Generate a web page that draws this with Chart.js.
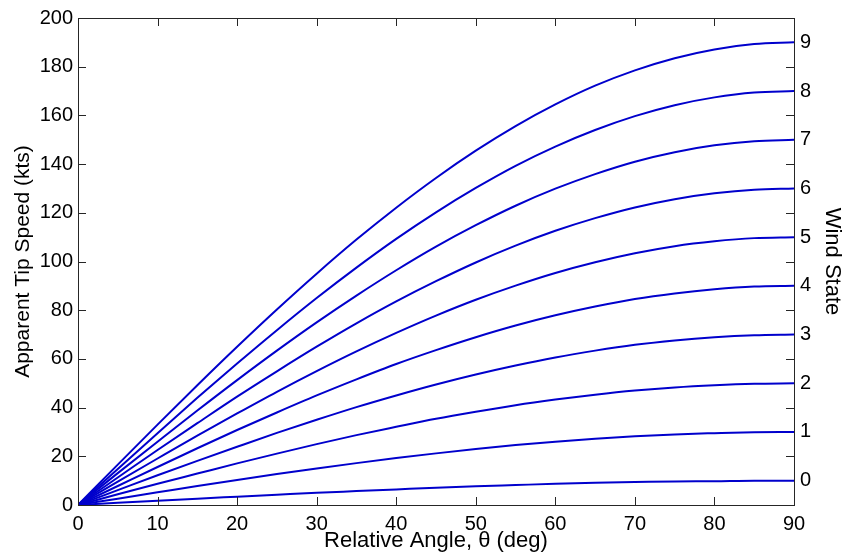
<!DOCTYPE html>
<html>
<head>
<meta charset="utf-8">
<script src="https://cdn.jsdelivr.net/npm/chart.js@4/dist/chart.umd.min.js"></script>
<style>
  body { margin: 0; background: #fff; }
  canvas { display: block; }
</style>
</head>
<body>
<canvas id="tip-chart" width="849" height="559"></canvas>
<script>
// relative angle samples (deg)
const angles = [0, 5, 10, 15, 20, 25, 30, 35, 40, 45, 50, 55, 60, 65, 70, 75, 80, 85, 90];

// apparent tip speed (kts) for each wind state
const state0 = [0, 0.9, 1.7, 2.6, 3.4, 4.2, 5, 5.7, 6.4, 7.1, 7.7, 8.2, 8.7, 9.1, 9.4, 9.7, 9.8, 10, 10];
const state1 = [0, 2.6, 5.2, 7.8, 10.3, 12.7, 15, 17.2, 19.3, 21.2, 23, 24.6, 26, 27.2, 28.2, 29, 29.5, 29.9, 30];
const state2 = [0, 4.4, 8.7, 12.9, 17.1, 21.1, 25, 28.7, 32.1, 35.4, 38.3, 41, 43.3, 45.3, 47, 48.3, 49.2, 49.8, 50];
const state3 = [0, 6.1, 12.2, 18.1, 23.9, 29.6, 35, 40.2, 45, 49.5, 53.6, 57.3, 60.6, 63.4, 65.8, 67.6, 68.9, 69.7, 70];
const state4 = [0, 7.8, 15.6, 23.3, 30.8, 38, 45, 51.6, 57.9, 63.6, 68.9, 73.7, 77.9, 81.5, 84.6, 86.9, 88.6, 89.7, 90];
const state5 = [0, 9.6, 19.1, 28.5, 37.6, 46.5, 55, 63.1, 70.7, 77.8, 84.3, 90.1, 95.3, 99.7, 103.4, 106.3, 108.3, 109.6, 110];
const state6 = [0, 11.3, 22.6, 33.6, 44.5, 54.9, 65, 74.6, 83.6, 91.9, 99.6, 106.5, 112.6, 117.8, 122.2, 125.6, 128, 129.5, 130];
const state7 = [0, 13.1, 26, 38.8, 51.3, 63.4, 75, 86, 96.4, 106.1, 114.9, 122.9, 129.9, 135.9, 141, 144.9, 147.7, 149.4, 150];
const state8 = [0, 14.8, 29.5, 44, 58.1, 71.8, 85, 97.5, 109.3, 120.2, 130.2, 139.3, 147.2, 154, 159.7, 164.2, 167.4, 169.4, 170];
const state9 = [0, 16.6, 33, 49.2, 65, 80.3, 95, 109, 122.1, 134.3, 145.5, 155.6, 164.5, 172.2, 178.5, 183.5, 187.1, 189.3, 190];

const states = [state0, state1, state2, state3, state4, state5, state6, state7, state8, state9];

// wind state labels on the right, placed at the end value of each curve
const windLabels = ['0', '1', '2', '3', '4', '5', '6', '7', '8', '9'];
const windEnds = states.map(s => s[s.length - 1]);

const xTicks = [0, 10, 20, 30, 40, 50, 60, 70, 80, 90];
const yTicks = [0, 20, 40, 60, 80, 100, 120, 140, 160, 180, 200];

const lineBlue = '#0000cc';
const family = "'Liberation Sans', Arial, sans-serif";
const font = { family: family, size: 20 };

let datasets = states.map(function (s, i) {
  return {
    label: 'Wind State ' + windLabels[i],
    data: s.map((v, k) => ({ x: angles[k], y: v })),
    borderColor: lineBlue,
    borderWidth: 2,
    pointRadius: 0,
    fill: false,
    cubicInterpolationMode: 'monotone',
    yAxisID: 'y'
  };
});

// box round the plot area with inward tick marks
const boxTicks = {
  id: 'boxTicks',
  afterDraw(chart) {
    const ctx = chart.ctx;
    const a = chart.chartArea;
    const sx = chart.scales.x, sy = chart.scales.y;
    const len = 8;
    ctx.save();
    ctx.strokeStyle = '#262626';
    ctx.lineWidth = 1;
    ctx.beginPath();
    xTicks.forEach(function (v) {
      const px = Math.round(sx.getPixelForValue(v)) + 0.5;
      ctx.moveTo(px, a.bottom); ctx.lineTo(px, a.bottom - len);
      ctx.moveTo(px, a.top); ctx.lineTo(px, a.top + len);
    });
    yTicks.forEach(function (v) {
      const py = Math.round(sy.getPixelForValue(v)) + 0.5;
      ctx.moveTo(a.left, py); ctx.lineTo(a.left + len, py);
      ctx.moveTo(a.right, py); ctx.lineTo(a.right - len, py);
    });
    ctx.stroke();
    ctx.strokeRect(Math.round(a.left) + 0.5, Math.round(a.top) + 0.5,
      Math.round(a.right - a.left), Math.round(a.bottom - a.top));
    ctx.restore();
  }
};

new Chart(document.getElementById('tip-chart'), {
  type: 'line',
  data: { datasets: datasets },
  plugins: [boxTicks],
  options: {
    responsive: false,
    animation: false,
    layout: { padding: { top: 14, left: 0, right: 0, bottom: 0 } },
    plugins: {
      legend: { display: false },
      tooltip: { enabled: false }
    },
    scales: {
      x: {
        type: 'linear',
        min: 0,
        max: 90,
        afterBuildTicks: s => { s.ticks = xTicks.map(v => ({ value: v })); },
        afterFit: s => { s.height = 54; },
        grid: { display: false, drawTicks: false },
        border: { display: false },
        ticks: { color: '#000', font: font, padding: 7, maxRotation: 0 },
        title: {
          display: true,
          text: 'Relative Angle, \u03b8 (deg)',
          color: '#000',
          font: { family: family, size: 22 },
          padding: { top: 0, bottom: 5 }
        }
      },
      y: {
        type: 'linear',
        position: 'left',
        min: 0,
        max: 200,
        afterBuildTicks: s => { s.ticks = yTicks.map(v => ({ value: v })); },
        afterFit: s => { s.width = 78; },
        grid: { display: false, drawTicks: false },
        border: { display: false },
        ticks: { color: '#000', font: font, padding: 5 },
        title: {
          display: true,
          text: 'Apparent Tip Speed (kts)',
          color: '#000',
          font: { family: family, size: 21 },
          padding: { top: 11, bottom: 0 }
        }
      },
      y2: {
        type: 'linear',
        position: 'right',
        min: 0,
        max: 200,
        afterBuildTicks: s => { s.ticks = windEnds.map(v => ({ value: v })); },
        afterFit: s => { s.width = 55; },
        grid: { display: false, drawTicks: false },
        border: { display: false },
        ticks: {
          color: '#000',
          font: font,
          padding: 6,
          callback: (v, i) => windLabels[i]
        },
        title: {
          display: true,
          text: 'Wind State',
          color: '#000',
          font: { family: family, size: 22 },
          padding: { top: 4, bottom: 0 }
        }
      }
    }
  }
});
</script>
</body>
</html>
